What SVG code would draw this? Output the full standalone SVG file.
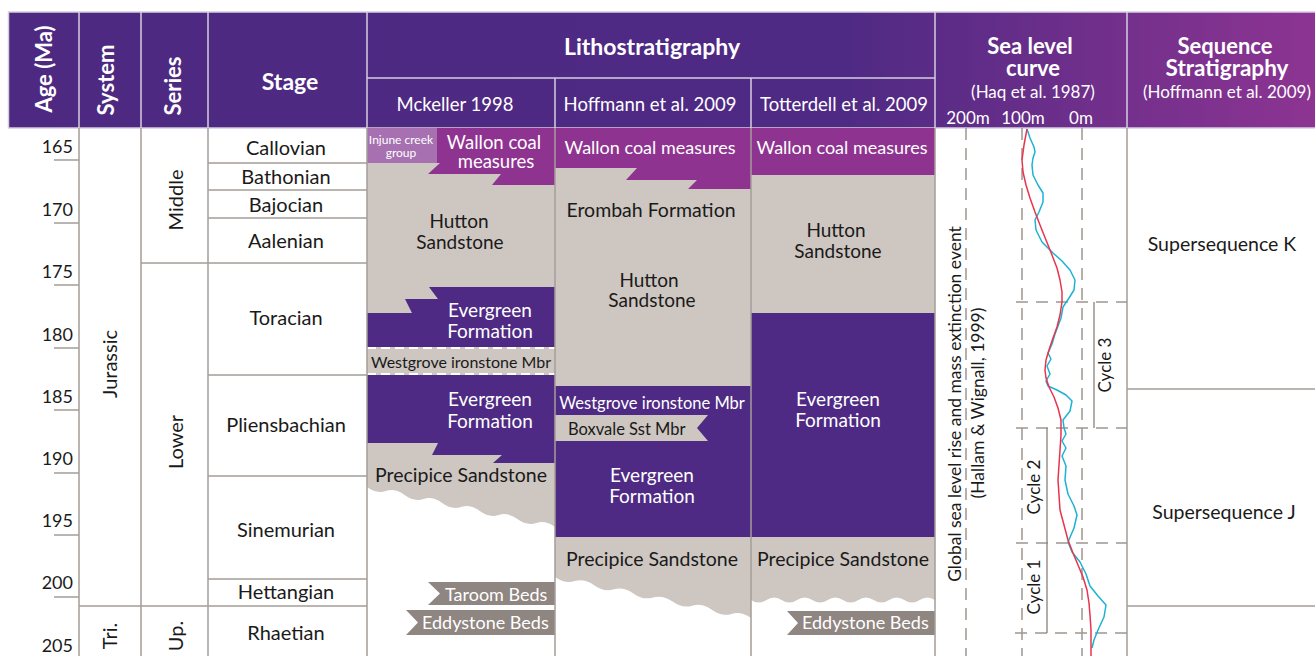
<svg xmlns="http://www.w3.org/2000/svg" width="1315" height="656" viewBox="0 0 1315 656">
<defs>
<linearGradient id="hdr" gradientUnits="userSpaceOnUse" x1="0" y1="0" x2="1315" y2="0">
<stop offset="0" stop-color="#4e2982"/>
<stop offset="0.646" stop-color="#4f2a84"/>
<stop offset="1" stop-color="#8d3492"/>
</linearGradient>
<style>
text{font-family:Lato,"Liberation Sans",sans-serif;}
.h{fill:#fff;font-weight:700;font-size:22px;text-anchor:middle}
.hs{fill:#fff;font-size:18.5px;text-anchor:middle}
.hl{stroke:#d6cde0;stroke-width:1.5;fill:none}
.g{stroke:#a59d99;stroke-width:1.5;fill:none}
.age{font-size:18px;fill:#1a1a1a;text-anchor:end}
.st{font-size:20px;fill:#1a1a1a;text-anchor:middle}
.k{fill:#1a1a1a;font-size:19px;text-anchor:middle}
.w{fill:#fff;font-size:19px;text-anchor:middle}
.sm{font-size:16px}
.sand{fill:#cdc6c1}
.everg{fill:#4e2a84}
.wal{fill:#8f3391}
.tag{fill:#8f8581}
.dash{stroke:#a0968f;stroke-width:1.5;stroke-dasharray:12 8;fill:none}
.cyc{stroke:#8a817c;stroke-width:1.3;fill:none}
.rot{fill:#1a1a1a;font-size:17px;text-anchor:middle}
</style>
</defs>
<rect x="0" y="0" width="1315" height="656" fill="#fff"/>

<g id="header">
<rect x="8.5" y="12" width="1310" height="116" fill="url(#hdr)" stroke="#d6cde0" stroke-width="1.5"/>
<path class="hl" d="M79,12V128M141,12V128M208,12V128M367,12V128M935,12V128M1127,12V128M367,78H935M555,78V128M751,78V128"/>
<text class="h" transform="translate(52,69) rotate(-90)">Age (Ma)</text>
<text class="h" transform="translate(114,80) rotate(-90)">System</text>
<text class="h" transform="translate(181,86) rotate(-90)">Series</text>
<text class="h" x="290" y="90" style="font-size:23px">Stage</text>
<text class="h" x="652" y="55" style="font-size:23px">Lithostratigraphy</text>
<text class="hs" x="455" y="111">Mckeller 1998</text>
<text class="hs" x="650" y="111">Hoffmann et al. 2009</text>
<text class="hs" x="844" y="111">Totterdell et al. 2009</text>
<text class="h" x="1030" y="54">Sea level</text>
<text class="h" x="1033" y="76">curve</text>
<text class="hs" x="1033" y="98" style="font-size:17px">(Haq et al. 1987)</text>
<text class="hs" x="968" y="124" style="font-size:17px">200m</text>
<text class="hs" x="1023" y="124" style="font-size:17px">100m</text>
<text class="hs" x="1081" y="124" style="font-size:17px">0m</text>
<text class="h" x="1225" y="54">Sequence</text>
<text class="h" x="1227" y="76" style="font-size:22.5px">Stratigraphy</text>
<text class="hs" x="1227" y="98" style="font-size:17px">(Hoffmann et al. 2009)</text>
</g>

<g id="age-scale">
<path class="g" d="M54,160H79M54,223H79M54,285H79M54,348H79M54,410H79M54,473H79M54,535H79M54,597H79"/>
<text class="age" x="73" y="153">165</text>
<text class="age" x="73" y="216">170</text>
<text class="age" x="73" y="278">175</text>
<text class="age" x="73" y="341">180</text>
<text class="age" x="73" y="403">185</text>
<text class="age" x="73" y="465">190</text>
<text class="age" x="73" y="527">195</text>
<text class="age" x="73" y="589">200</text>
<text class="age" x="73" y="652">205</text>
</g>

<g id="system-series">
<text class="st" transform="translate(117,364) rotate(-90)">Jurassic</text>
<text class="st" transform="translate(117,636) rotate(-90)">Tri.</text>
<text class="st" transform="translate(183,200) rotate(-90)">Middle</text>
<text class="st" transform="translate(183,442) rotate(-90)">Lower</text>
<text class="st" transform="translate(183,636) rotate(-90)">Up.</text>
</g>

<g id="stages">
<text class="st" x="286" y="155">Callovian</text>
<text class="st" x="286" y="184">Bathonian</text>
<text class="st" x="286" y="212">Bajocian</text>
<text class="st" x="286" y="248">Aalenian</text>
<text class="st" x="286" y="325">Toracian</text>
<text class="st" x="286" y="432">Pliensbachian</text>
<text class="st" x="286" y="537">Sinemurian</text>
<text class="st" x="286" y="599">Hettangian</text>
<text class="st" x="286" y="640">Rhaetian</text>
</g>

<g id="mckeller">
<path class="sand" d="M367,128H555V527q-9.4,-7 -18.8,-4t-18.8,-4t-18.8,-4t-18.8,-4t-18.8,-4t-18.8,-4t-18.8,-4t-18.8,-4t-18.8,-4t-18.8,-4Z"/>
<rect x="367" y="128" width="70" height="35" fill="#a670b1"/>
<polygon class="wal" points="437,128 555,128 555,185 492,185 501,174 428,174 440,163 437,163"/>
<polygon class="everg" points="367,313 412,313 405,299 438,299 429,287 555,287 555,347 367,347"/>
<path d="M367,348H555M367,374H555" stroke="#fff" stroke-width="2" stroke-dasharray="9 5" fill="none"/>
<polygon class="everg" points="367,375 555,375 555,463 493,463 502,455 432,455 438,443 367,443"/>
<polygon class="tag" points="428,582 555,582 555,605 428,605 440,593.5"/>
<polygon class="tag" points="406,610 555,610 555,635 406,635 418,622.5"/>
<text class="w" x="401" y="144" style="font-size:12px">Injune creek</text>
<text class="w" x="401" y="157" style="font-size:12px">group</text>
<text class="w" x="494" y="149" style="font-size:18.5px">Wallon coal</text>
<text class="w" x="496" y="168" style="font-size:18.5px">measures</text>
<text class="k" x="459" y="228">Hutton</text>
<text class="k" x="460" y="249">Sandstone</text>
<text class="w" x="490" y="317">Evergreen</text>
<text class="w" x="490" y="338">Formation</text>
<text class="k sm" x="461" y="368">Westgrove ironstone Mbr</text>
<text class="w" x="490" y="406">Evergreen</text>
<text class="w" x="490" y="428">Formation</text>
<text class="k" x="461" y="482" style="font-size:19.5px">Precipice Sandstone</text>
<text class="w" x="445" y="601" style="text-anchor:start;font-size:18px">Taroom Beds</text>
<text class="w" x="422" y="629" style="text-anchor:start;font-size:18px">Eddystone Beds</text>
</g>

<g id="hoffmann">
<path class="sand" d="M555,128H751V618q-9.8,-7 -19.6,-4.1t-19.6,-4.1t-19.6,-4.1t-19.6,-4.1t-19.6,-4.1t-19.6,-4.1t-19.6,-4.1t-19.6,-4.1t-19.6,-4.1t-19.6,-4.1Z"/>
<polygon class="wal" points="555,128 751,128 751,189 688,189 697,180 626,180 637,168 555,168"/>
<rect class="everg" x="555" y="386" width="196" height="151"/>
<polygon class="sand" points="555,415 708,415 697,428 708,441 555,441"/>
<text class="w" x="650" y="154" style="font-size:18px">Wallon coal measures</text>
<text class="k" x="651" y="217" style="font-size:19.5px">Erombah Formation</text>
<text class="k" x="649" y="287">Hutton</text>
<text class="k" x="652" y="307">Sandstone</text>
<text class="w" x="652" y="409" style="font-size:16.5px">Westgrove ironstone Mbr</text>
<text class="k sm" x="568" y="435" style="text-anchor:start;font-size:16.5px">Boxvale Sst Mbr</text>
<text class="w" x="652" y="482">Evergreen</text>
<text class="w" x="652" y="503">Formation</text>
<text class="k" x="652" y="566" style="font-size:19.5px">Precipice Sandstone</text>
</g>

<g id="totterdell">
<path class="sand" d="M751,128H935V600q-7.67,-5 -15.33,0t-15.33,0t-15.33,0t-15.33,0t-15.33,0t-15.33,0t-15.33,0t-15.33,0t-15.33,0t-15.33,0t-15.33,0t-15.33,0Z"/>
<rect class="wal" x="751" y="128" width="184" height="47"/>
<rect class="everg" x="751" y="313" width="184" height="224"/>
<polygon class="tag" points="787,611 935,611 935,635 787,635 798,623"/>
<text class="w" x="842" y="154" style="font-size:18px">Wallon coal measures</text>
<text class="k" x="836" y="237">Hutton</text>
<text class="k" x="838" y="258">Sandstone</text>
<text class="w" x="838" y="406">Evergreen</text>
<text class="w" x="838" y="427">Formation</text>
<text class="k" x="843" y="566" style="font-size:19.5px">Precipice Sandstone</text>
<text class="w" x="802" y="629" style="text-anchor:start;font-size:18px">Eddystone Beds</text>
</g>

<g id="grid">
<path class="g" d="M79,128V656M141,128V656M208,128V656M367,128V656M555,128V656M751,128V656M935,128V656M1127,128V656"/>
<path class="g" d="M208,163H367M208,190H367M208,218H367M141,263H367M208,375H367M208,476H367M208,579H367M79,606H367M1127,389H1315M1127,606H1315"/>
</g>

<g id="sea-level">
<path class="dash" d="M966,128V656M1022,128V656M1082,128V656"/>
<path class="dash" d="M1016,302H1127M1016,428H1127M1016,543H1127M1015,633H1127"/>
<path class="cyc" d="M1094,302V428M1047,428V633"/>
<text class="rot" transform="translate(961,404) rotate(-90)" style="font-size:17.5px">Global sea level rise and mass extinction event</text>
<text class="rot" transform="translate(984,403) rotate(-90)" style="font-size:17.5px">(Hallam &amp; Wignall, 1999)</text>
<text class="rot" transform="translate(1111,365) rotate(-90)">Cycle 3</text>
<text class="rot" transform="translate(1040,487) rotate(-90)">Cycle 2</text>
<text class="rot" transform="translate(1040,587) rotate(-90)">Cycle 1</text>
<polyline fill="none" stroke="#1cb3d3" stroke-width="1.5" stroke-linejoin="round" points="1027,129 1030,138 1034,147 1035,152 1033,158 1032,165 1033,175 1038,185 1043,193 1043,202 1039,212 1035,220 1036,230 1042,242 1053,253 1062,261 1070,270 1075,280 1074,290 1069,298 1063,307 1061,318 1058,326 1055,334 1052,344 1048,353 1051,359 1047,366 1050,374 1046,381 1048,386 1057,390 1066,395 1072,401 1070,411 1063,420 1064,428 1066,434 1062,441 1066,448 1062,456 1066,466 1065,480 1068,494 1074,506 1077,515 1074,528 1068,542 1072,552 1080,562 1086,574 1090,586 1098,596 1106,605 1104,617 1098,630 1094,640 1092,648"/>
<polyline fill="none" stroke="#e8344e" stroke-width="1.5" stroke-linejoin="round" points="1027,129 1024,145 1022,160 1023,172 1026,185 1030,198 1035,212 1040,225 1046,240 1052,255 1057,268 1060,280 1062,292 1062,302 1060,315 1057,327 1053,338 1049,350 1046,360 1045,370 1046,378 1049,387 1054,397 1058,408 1061,420 1061,435 1060,450 1059,465 1058,480 1059,495 1060,510 1064,525 1068,540 1073,553 1078,565 1083,577 1087,590 1089,603 1090,615 1091,630 1091,656"/>
</g>

<g id="sequence">
<text class="k" x="1222" y="251" style="font-size:19.5px">Supersequence K</text>
<text class="k" x="1224" y="519" style="font-size:19.5px">Supersequence J</text>
</g>
</svg>
